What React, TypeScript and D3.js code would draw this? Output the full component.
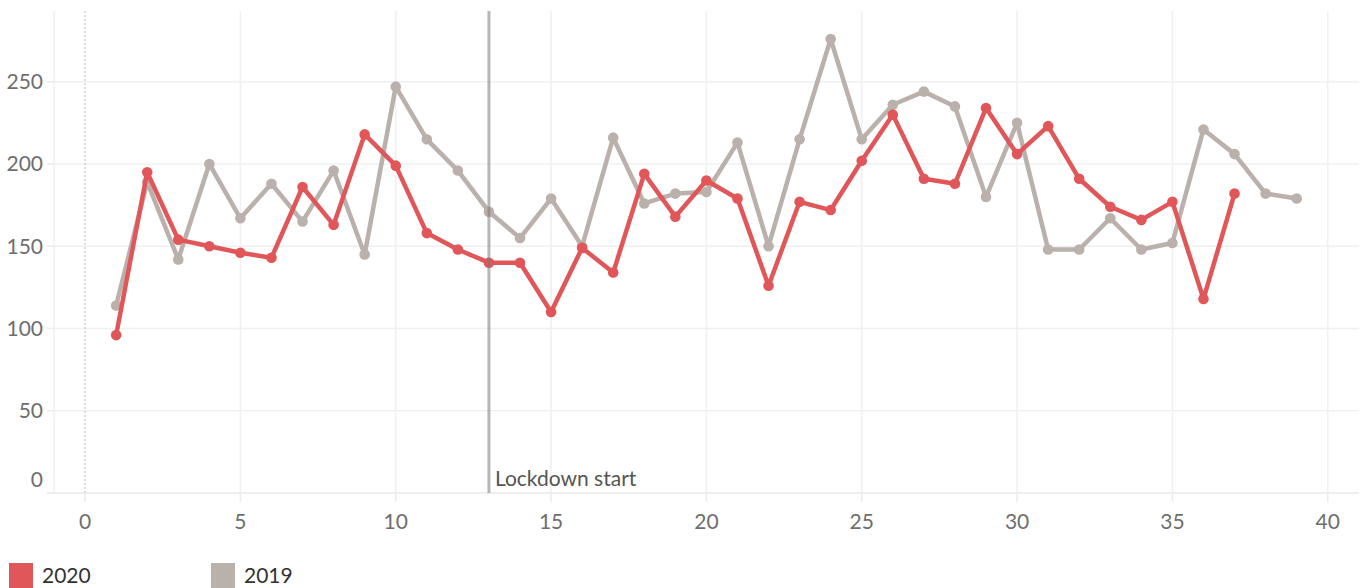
import React from "react";
import * as d3 from "d3";

const weeks2020 = d3.range(1, 38);
const values2020 = [96, 195, 154, 150, 146, 143, 186, 163, 218, 199, 158, 148, 140, 140, 110, 149, 134, 194, 168, 190, 179, 126, 177, 172, 202, 230, 191, 188, 234, 206, 223, 191, 174, 166, 177, 118, 182];
const weeks2019 = d3.range(1, 40);
const values2019 = [114, 189, 142, 200, 167, 188, 165, 196, 145, 247, 215, 196, 171, 155, 179, 150, 216, 176, 182, 183, 213, 150, 215, 276, 215, 236, 244, 235, 180, 225, 148, 148, 167, 148, 152, 221, 206, 182, 179];
const xTicks = [0, 5, 10, 15, 20, 25, 30, 35, 40];
const yTicks = [0, 50, 100, 150, 200, 250];
const lockdownWeek = 13;
const lockdownLabel = "Lockdown start";
const seriesNames = ["2020", "2019"];
const seriesColors = ["#e15759", "#bab0ac"];

const W = 1364;
const H = 588;
const FONT = "Lato, 'Noto Sans', sans-serif";

export default function App() {
  const x = d3.scaleLinear().domain([-1, 41]).range([54, 1358.8]);
  const y = d3.scaleLinear().domain([0, 293]).range([493, 11]);
  const line = d3
    .line<[number, number]>()
    .x((d) => x(d[0]))
    .y((d) => y(d[1]));
  const d2020: [number, number][] = weeks2020.map((w, i) => [w, values2020[i]]);
  const d2019: [number, number][] = weeks2019.map((w, i) => [w, values2019[i]]);
  const top = y(293);
  const bottom = y(0);

  return (
    <svg
      width={W}
      height={H}
      style={{ position: "fixed", left: 0, top: 0, display: "block", background: "#fff" }}
      fontFamily={FONT}
    >
      {yTicks.map((t) => (
        <line key={"hg" + t} x1={x(-1)} x2={x(41)} y1={y(t)} y2={y(t)} stroke="#f0f0f0" strokeWidth={1.5} />
      ))}
      {xTicks.filter((t) => t !== 0).map((t) => (
        <line key={"vg" + t} x1={x(t)} x2={x(t)} y1={top} y2={bottom} stroke="#f0f0f0" strokeWidth={1.5} />
      ))}
      <line x1={x(-1)} x2={x(-1)} y1={top} y2={bottom} stroke="#f0f0f0" strokeWidth={1.5} />
      <line x1={x(0)} x2={x(0)} y1={top} y2={bottom} stroke="#bdbdbd" strokeWidth={1} strokeDasharray="2,2" />
      <line x1={47} x2={x(41)} y1={bottom} y2={bottom} stroke="#ececec" strokeWidth={1.5} />
      {yTicks.map((t) => (
        <line key={"yt" + t} x1={47} x2={x(-1)} y1={y(t)} y2={y(t)} stroke="#ececec" strokeWidth={1.5} />
      ))}
      {xTicks.map((t) => (
        <line key={"xt" + t} x1={x(t)} x2={x(t)} y1={bottom} y2={bottom + 9} stroke="#ececec" strokeWidth={1.5} />
      ))}
      {yTicks.map((t) => (
        <text
          key={"yl" + t}
          x={43}
          y={t === 0 ? y(t) - 13 : y(t)}
          dy="0.35em"
          textAnchor="end"
          fontSize={21}
          fill="#6e6e6e"
        >
          {t}
        </text>
      ))}
      {xTicks.map((t) => (
        <text key={"xl" + t} x={x(t)} y={529} textAnchor="middle" fontSize={21} fill="#6e6e6e">
          {t}
        </text>
      ))}
      <path d={line(d2019) || ""} fill="none" stroke={seriesColors[1]} strokeWidth={4.5} strokeLinejoin="round" />
      {d2019.map((d, i) => (
        <circle key={"c19" + i} cx={x(d[0])} cy={y(d[1])} r={5.3} fill={seriesColors[1]} />
      ))}
      <path d={line(d2020) || ""} fill="none" stroke={seriesColors[0]} strokeWidth={4.5} strokeLinejoin="round" />
      {d2020.map((d, i) => (
        <circle key={"c20" + i} cx={x(d[0])} cy={y(d[1])} r={5.3} fill={seriesColors[0]} />
      ))}
      <line
        x1={x(lockdownWeek)}
        x2={x(lockdownWeek)}
        y1={top}
        y2={bottom}
        stroke="#7a7a7a"
        strokeOpacity={0.55}
        strokeWidth={3}
      />
      <text x={x(lockdownWeek) + 6} y={486} fontSize={21} fill="#555">
        {lockdownLabel}
      </text>
      {seriesNames.map((n, i) => (
        <g key={"lg" + n} transform={`translate(${9 + i * 202},563)`}>
          <rect x={0} y={0} width={24} height={25} fill={seriesColors[i]} />
          <text x={33} y={20} fontSize={21} fill="#333">
            {n}
          </text>
        </g>
      ))}
    </svg>
  );
}
